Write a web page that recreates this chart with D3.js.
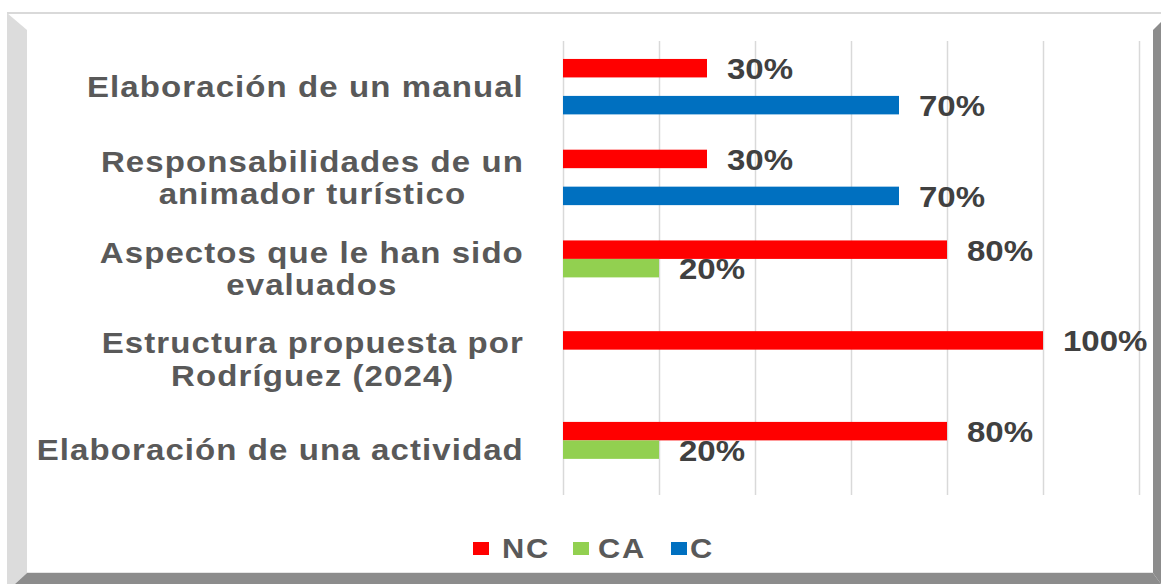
<!DOCTYPE html>
<html>
<head>
<meta charset="utf-8">
<script src="https://cdn.jsdelivr.net/npm/d3@7"></script>
<style>
  body { margin: 0; background: #fff; }
  text { font-family: "Liberation Sans", Arial, sans-serif; font-weight: bold; }
</style>
</head>
<body>
<div id="chart-area"></div>
<script>
// categories top to bottom, each split into its label lines
let categories = [
    ["Elaboración de un manual"],
    ["Responsabilidades de un", "animador turístico"],
    ["Aspectos que le han sido", "evaluados"],
    ["Estructura propuesta por", "Rodríguez (2024)"],
    ["Elaboración de una actividad"]
];
let seriesNames = ["NC", "CA", "C"];
let ncValues = [0.30, 0.30, 0.80, 1.00, 0.80];
let caValues = [null, null, 0.20, null, 0.20];
let cValues  = [0.70, 0.70, null, null, null];
let xTicks = [0, 0.2, 0.4, 0.6, 0.8, 1.0, 1.2];

let colors = {"NC": "#ff0000", "CA": "#92d050", "C": "#0070c0"};
let seriesValues = {"NC": ncValues, "CA": caValues, "C": cValues};

let W = 1161, H = 584;
let svg = d3.select('#chart-area')
            .append('svg')
            .attr('width', W)
            .attr('height', H);

// frame with bevel look
svg.append("rect").attr("width", W).attr("height", H).attr("fill", "#fff");
svg.append("rect").attr("x", 7).attr("y", 12).attr("width", W - 7).attr("height", 2).attr("fill", "#d9d9d9");
svg.append("polygon")
    .attr("points", "7,13 27,30 27,573 15,584 7,584")
    .attr("fill", "#dcdcdc");
svg.append("polygon")
    .attr("points", "1153,30 1161,22 1161,584 1153,573")
    .attr("fill", "#8c8c8c");
svg.append("polygon")
    .attr("points", "27,573 1153,573 1161,584 15,584")
    .attr("fill", "#8c8c8c");
svg.append("line").attr("x1", 27).attr("x2", 1153).attr("y1", 572.5).attr("y2", 572.5)
    .attr("stroke", "#e6e6e6");

let catKeys = categories.map(function(d){ return d.join(" "); });

let x = d3.scaleLinear()
        .domain([0, 1.2])
        .range([563, 1139]);
let y = d3.scaleBand()
        .domain(catKeys)
        .range([41.3, 495])
        .paddingInner(0.389)
        .paddingOuter(0.1945);
let ySub = d3.scaleBand()
        .domain(seriesNames)
        .range([0, y.bandwidth()]);

// gridlines
svg.append("g")
    .selectAll("line")
    .data(xTicks)
    .enter()
    .append("line")
    .attr("x1", function(d){ return Math.round(x(d)) + 0.5; })
    .attr("x2", function(d){ return Math.round(x(d)) + 0.5; })
    .attr("y1", 41)
    .attr("y2", 495)
    .attr("stroke", "#d9d9d9")
    .attr("stroke-width", 1.5);

// bars
let bars = [];
seriesNames.forEach(function(s){
    seriesValues[s].forEach(function(v, i){
        if (v !== null) bars.push({series: s, cat: catKeys[i], value: v});
    });
});

svg.append("g")
    .selectAll("rect")
    .data(bars)
    .enter()
    .append("rect")
    .attr("x", x(0))
    .attr("y", function(d){ return y(d.cat) + ySub(d.series); })
    .attr("width", function(d){ return x(d.value) - x(0); })
    .attr("height", ySub.bandwidth())
    .attr("fill", function(d){ return colors[d.series]; });

// data labels
svg.append("g")
    .selectAll("text")
    .data(bars)
    .enter()
    .append("text")
    .attr("transform", function(d){
        let cy = y(d.cat) + ySub(d.series) + ySub.bandwidth() / 2;
        return "translate(" + (x(d.value) + 20) + "," + (cy + 11) + ") scale(1.1,1)";
    })
    .attr("font-size", 30)
    .attr("fill", "#404040")
    .text(function(d){ return Math.round(d.value * 100) + "%"; });

// category labels: block right aligned, lines centred in the block
let lineGap = 32.5;
let labelRight = 524;
categories.forEach(function(lines, i){
    let cy = y(catKeys[i]) + y.bandwidth() / 2;
    let g = svg.append("g");
    let texts = g.selectAll("text")
        .data(lines)
        .enter()
        .append("text")
        .attr("font-size", 30)
        .attr("letter-spacing", 1.0)
        .attr("fill", "#595959")
        .attr("text-anchor", "middle")
        .text(function(d){ return d; });
    let widest = d3.max(texts.nodes(), function(n){ return n.getComputedTextLength(); }) * 1.1;
    let cx = labelRight - widest / 2;
    texts.attr("transform", function(d, j){
        let by = cy + 10.6 + (j - (lines.length - 1) / 2) * lineGap;
        return "translate(" + cx + "," + by + ") scale(1.1,1)";
    });
});

// legend
let legendItems = [
    {name: "NC", box: 473, text: 502},
    {name: "CA", box: 573, text: 598},
    {name: "C",  box: 671, text: 690}
];
let legend = svg.append("g");
legend.selectAll("rect")
    .data(legendItems)
    .enter()
    .append("rect")
    .attr("x", function(d){ return d.box; })
    .attr("y", 542)
    .attr("width", 16)
    .attr("height", 13)
    .attr("fill", function(d){ return colors[d.name]; });
legend.selectAll("text")
    .data(legendItems)
    .enter()
    .append("text")
    .attr("transform", function(d){ return "translate(" + d.text + ",558) scale(1.1,1)"; })
    .attr("font-size", 28)
    .attr("letter-spacing", 1.5)
    .attr("fill", "#595959")
    .text(function(d){ return d.name; });
</script>
</body>
</html>
